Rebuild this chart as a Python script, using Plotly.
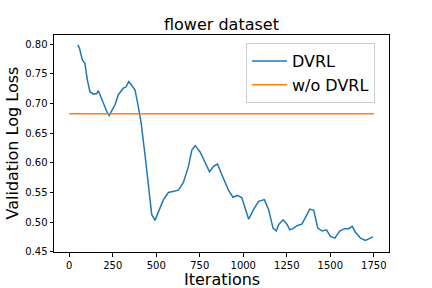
import plotly.graph_objects as go

iterations = [50, 60, 75, 90, 104, 119, 138, 158, 167, 177, 196, 215, 230, 244, 263, 282,
              311, 326, 342, 359, 378, 397, 413, 436, 455, 474, 493, 522, 541, 570, 599,
              628, 656, 685, 705, 724, 753, 781, 806, 829, 852, 877, 915, 941, 967, 992,
              1031, 1059, 1088, 1121, 1146, 1171, 1190, 1204, 1229, 1252, 1267, 1286, 1309,
              1338, 1357, 1382, 1405, 1428, 1453, 1478, 1501, 1526, 1554, 1582, 1606, 1626,
              1645, 1674, 1702, 1727, 1745]
dvrl_loss = [0.799, 0.792, 0.774, 0.768, 0.740, 0.720, 0.716, 0.717, 0.722, 0.715, 0.701,
             0.687, 0.680, 0.687, 0.698, 0.715, 0.726, 0.728, 0.737, 0.731, 0.723, 0.695,
             0.668, 0.612, 0.560, 0.513, 0.503, 0.524, 0.538, 0.550, 0.552, 0.554, 0.567,
             0.594, 0.622, 0.629, 0.618, 0.600, 0.585, 0.594, 0.598, 0.580, 0.554, 0.542,
             0.545, 0.541, 0.505, 0.521, 0.535, 0.538, 0.521, 0.490, 0.485, 0.496, 0.504,
             0.496, 0.487, 0.489, 0.494, 0.497, 0.507, 0.522, 0.520, 0.490, 0.485, 0.487,
             0.476, 0.473, 0.485, 0.489, 0.489, 0.493, 0.483, 0.473, 0.469, 0.473, 0.475]
baseline_x = [0, 1750]
baseline_loss = [0.683, 0.683]

x_ticks = [0, 250, 500, 750, 1000, 1250, 1500, 1750]
y_ticks = [0.45, 0.50, 0.55, 0.60, 0.65, 0.70, 0.75, 0.80]

fig = go.Figure()
fig.add_trace(go.Scatter(x=iterations, y=dvrl_loss, mode="lines", name="DVRL",
                         line=dict(color="#1f77b4", width=1.5)))
fig.add_trace(go.Scatter(x=baseline_x, y=baseline_loss, mode="lines", name="w/o DVRL",
                         line=dict(color="#ff7f0e", width=1.5)))

axis_common = dict(showline=True, linecolor="black", linewidth=1, mirror=True,
                   ticks="outside", ticklen=3.5, tickcolor="black", tickwidth=1,
                   showgrid=False, zeroline=False, automargin=False,
                   tickfont=dict(family="DejaVu Sans", size=10, color="black"))

title_font = dict(family="DejaVu Sans", size=16, color="black")

fig.update_layout(
    width=432, height=288,
    margin=dict(l=54, r=43, t=35, b=36, autoexpand=False),
    paper_bgcolor="white", plot_bgcolor="white",
    font=dict(family="DejaVu Sans", color="black"),
    xaxis=dict(range=[-87.5, 1837.5], tickvals=x_ticks, **axis_common),
    yaxis=dict(range=[0.4496, 0.8157], tickvals=y_ticks, tickformat=".2f", **axis_common),
    legend=dict(x=(246 - 54) / 335, y=0.963, xanchor="left", yanchor="top",
                bgcolor="rgba(255,255,255,0.8)", bordercolor="#cccccc", borderwidth=1,
                font=dict(family="DejaVu Sans", size=16, color="black"),
                itemwidth=35, tracegroupgap=0),
    showlegend=True,
    annotations=[
        dict(text="flower dataset", xref="paper", yref="paper", x=0.5, y=(252 - 25) / 217,
             xanchor="center", yanchor="middle", showarrow=False, font=title_font),
        dict(text="Iterations", xref="paper", yref="paper", x=0.5, y=(252 - 279) / 217,
             xanchor="center", yanchor="middle", showarrow=False, font=title_font),
        dict(text="Validation Log Loss", xref="paper", yref="paper", x=(12 - 54) / 335,
             y=0.5, xanchor="center", yanchor="middle", textangle=-90, showarrow=False,
             font=title_font),
    ],
)

fig.write_html("out.html", config={"displayModeBar": False, "staticPlot": True},
               post_script="document.body.style.margin='0';document.body.style.overflow='hidden';")
